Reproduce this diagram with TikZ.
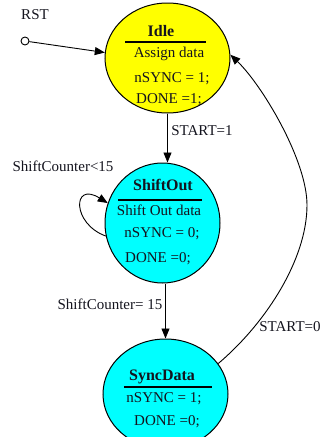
\documentclass[tikz,border=0pt]{standalone}
\usepackage{fontspec}
\setmainfont{Liberation Serif}
\usetikzlibrary{shapes.geometric,arrows.meta}

\definecolor{stateyellow}{RGB}{255,255,0}
\definecolor{statecyan}{RGB}{0,255,255}
\definecolor{ink}{RGB}{20,20,30}

\begin{document}
\begin{tikzpicture}[x=1pt,y=-1pt,
  state/.style={draw=black,line width=1pt,ellipse,inner sep=0pt},
  txt/.style={font=\fontsize{15}{17}\selectfont,text=ink,inner sep=0pt,anchor=base},
  ttl/.style={font=\fontsize{16}{18}\selectfont\bfseries,text=ink,inner sep=0pt,anchor=base},
  lbl/.style={font=\fontsize{15}{17}\selectfont,text=ink,inner sep=0pt},
  rule/.style={draw=black,line width=1.1pt},
  arr/.style={draw=black,line width=0.9pt,-{Triangle[length=10pt,width=8pt]}},
]
\useasboundingbox (0,0) rectangle (323,437);

% states
\node[state,fill=stateyellow,minimum width=125pt,minimum height=110pt] (idle) at (167.5,58) {};
\node[state,fill=statecyan,minimum width=115pt,minimum height=120pt] (so) at (162.5,223) {};
\node[state,fill=statecyan,minimum width=125pt,minimum height=110pt] (sd) at (165.5,394) {};

% Idle contents
\node[ttl] (idleT) at (161,36) {Idle};
\draw[rule] (125,42) -- (206,42);
\node[txt] (idleA) at (169,57) {Assign data};
\node[txt] (idleB) at (172,82) {nSYNC = 1;};
\node[txt] (idleC) at (169,103) {DONE =1;};

% ShiftOut contents
\node[ttl] (soT) at (163,190) {ShiftOut};
\draw[rule] (118,200) -- (202,200);
\node[txt] (soA) at (159,215) {Shift Out data};
\node[txt] (soB) at (162,237) {nSYNC = 0;};
\node[txt] (soC) at (158,262) {DONE =0;};

% SyncData contents
\node[ttl] (sdT) at (162,380) {SyncData};
\draw[rule] (124,387) -- (212,387);
\node[txt] (sdA) at (164,402) {nSYNC = 1;};
\node[txt] (sdB) at (167,425) {DONE =0;};

% reset input
\node[lbl] (rstT) at (35,15) {RST};
\node[draw=black,line width=0.9pt,circle,minimum size=8pt,inner sep=0pt,fill=white] (rst) at (25,41) {};
\draw[arr] (rst) -- (idle.175);

% transitions
\draw[arr] (idle.south) -- (idle.south |- so.north);
\node[lbl] (l1) at (202,131) {START=1};

\draw[arr] (sd.north |- so.south) -- (sd.north);
\node[lbl] (l2) at (110,304) {ShiftCounter= 15};

\draw[arr] (so.193) .. controls (72,224) and (72,181) .. (so.160);
\node[lbl] (l3) at (63,166) {ShiftCounter<15};

\draw[arr] (sd.30) .. controls (265,324) and (307,260) .. (307,205)
  .. controls (307,160) and (262,85) .. (idle.3);
\node[lbl] (l4) at (290,327) {START=0};
\end{tikzpicture}
\end{document}
